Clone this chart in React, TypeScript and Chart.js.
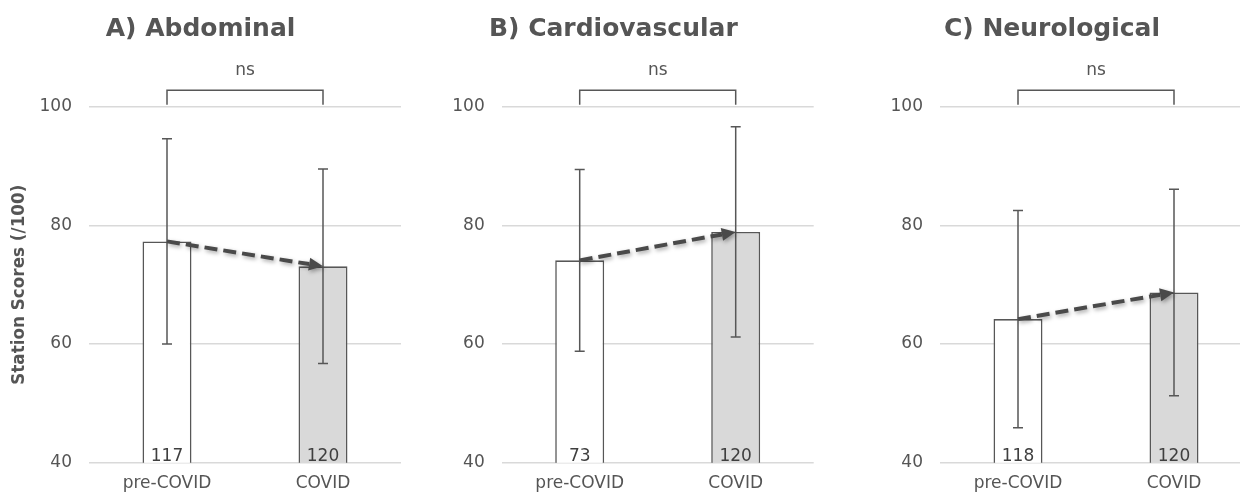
import React, { useEffect, useRef } from "react";
import { Chart, registerables } from "chart.js";

Chart.register(...registerables);

const categories = ["pre-COVID", "COVID"];
const panelTitles = ["A) Abdominal", "B) Cardiovascular", "C) Neurological"];
const yAxisTitle = "Station Scores (/100)";
const yTicks = [40, 60, 80, 100];
const significance = ["ns", "ns", "ns"];

const abdominalMeans = [77.3, 73.1];
const abdominalSD = [17.3, 16.4];
const abdominalN = [117, 120];

const cardiovascularMeans = [74.1, 78.9];
const cardiovascularSD = [15.3, 17.7];
const cardiovascularN = [73, 120];

const neurologicalMeans = [64.2, 68.7];
const neurologicalSD = [18.3, 17.4];
const neurologicalN = [118, 120];

const FONT = "'DejaVu Sans', sans-serif";
const GREY = "#555555";
const LINE = "#575757";

const panels = [
  { title: panelTitles[0], means: abdominalMeans, sd: abdominalSD, n: abdominalN, sig: significance[0], left: 0, width: 403, axisW: 89, showY: true },
  { title: panelTitles[1], means: cardiovascularMeans, sd: cardiovascularSD, n: cardiovascularN, sig: significance[1], left: 413, width: 402, axisW: 88.7, showY: false },
  { title: panelTitles[2], means: neurologicalMeans, sd: neurologicalSD, n: neurologicalN, sig: significance[2], left: 852, width: 401, axisW: 88, showY: false },
];

function makeOverlay(p: any) {
  return {
    id: "overlay",
    afterDatasetsDraw(chart: any) {
      const ctx = chart.ctx;
      const x = chart.scales.x;
      const y = chart.scales.y;
      const cx = categories.map((_, i) => x.getPixelForValue(i));
      ctx.save();
      // n labels inside bars
      ctx.fillStyle = "#3f3f3f";
      ctx.font = `17px ${FONT}`;
      ctx.textAlign = "center";
      ctx.textBaseline = "alphabetic";
      p.n.forEach((v: number, i: number) => {
        ctx.fillText(String(v), cx[i], y.getPixelForValue(40) - 1.5);
      });
      // error bars
      ctx.strokeStyle = LINE;
      ctx.lineWidth = 1.5;
      p.means.forEach((m: number, i: number) => {
        const top = y.getPixelForValue(m + p.sd[i]);
        const bot = y.getPixelForValue(m - p.sd[i]);
        ctx.beginPath();
        ctx.moveTo(cx[i], top);
        ctx.lineTo(cx[i], bot);
        ctx.moveTo(cx[i] - 5, top);
        ctx.lineTo(cx[i] + 5, top);
        ctx.moveTo(cx[i] - 5, bot);
        ctx.lineTo(cx[i] + 5, bot);
        ctx.stroke();
      });
      // bracket + ns
      const yb = y.getPixelForValue(100);
      ctx.beginPath();
      ctx.moveTo(cx[0], yb - 2);
      ctx.lineTo(cx[0], yb - 16.5);
      ctx.lineTo(cx[1], yb - 16.5);
      ctx.lineTo(cx[1], yb - 2);
      ctx.stroke();
      ctx.fillStyle = GREY;
      ctx.font = `17px ${FONT}`;
      ctx.fillText(p.sig, (cx[0] + cx[1]) / 2, yb - 31.5);
      // dashed arrow
      const x0 = cx[0], y0 = y.getPixelForValue(p.means[0]);
      const x1 = cx[1], y1 = y.getPixelForValue(p.means[1]);
      const ang = Math.atan2(y1 - y0, x1 - x0);
      const headL = 14, headW = 6.5;
      const ex = x1 - Math.cos(ang) * headL;
      const ey = y1 - Math.sin(ang) * headL;
      ctx.shadowColor = "rgba(0,0,0,0.35)";
      ctx.shadowBlur = 4;
      ctx.shadowOffsetX = 1.5;
      ctx.shadowOffsetY = 2;
      ctx.strokeStyle = "#4a4a4a";
      ctx.fillStyle = "#4a4a4a";
      ctx.lineWidth = 4;
      ctx.setLineDash([13, 6]);
      ctx.beginPath();
      ctx.moveTo(x0, y0);
      ctx.lineTo(ex, ey);
      ctx.stroke();
      ctx.setLineDash([]);
      ctx.beginPath();
      ctx.moveTo(x1, y1);
      ctx.lineTo(ex - Math.sin(ang) * headW, ey + Math.cos(ang) * headW);
      ctx.lineTo(ex + Math.sin(ang) * headW, ey - Math.cos(ang) * headW);
      ctx.closePath();
      ctx.fill();
      ctx.restore();
    },
  };
}

function Panel({ p }: { p: any }) {
  const ref = useRef<HTMLCanvasElement>(null);
  useEffect(() => {
    if (!ref.current) return;
    const chart = new Chart(ref.current, {
      type: "bar",
      data: {
        labels: categories,
        datasets: [
          {
            data: p.means,
            backgroundColor: ["#ffffff", "#d9d9d9"],
            borderColor: LINE,
            borderWidth: 1.6,
            categoryPercentage: 1,
            barPercentage: 0.314,
          },
        ],
      },
      options: {
        animation: false,
        responsive: false,
        maintainAspectRatio: false,
        layout: { padding: { left: 0, right: p.width - p.axisW - 312, top: 0, bottom: 0 } },
        plugins: {
          legend: { display: false },
          tooltip: { enabled: false },
          title: {
            display: true,
            text: p.title,
            color: GREY,
            font: { family: FONT, size: 25, weight: "bold" },
            padding: { top: 14, bottom: 62.7 },
          },
        },
        scales: {
          x: {
            grid: { display: false, drawTicks: false },
            border: { display: false },
            ticks: { font: { family: FONT, size: 17 }, color: GREY, padding: 11 },
            afterFit: (s: any) => {
              s.height = 31.3;
            },
          },
          y: {
            min: yTicks[0],
            max: yTicks[yTicks.length - 1],
            afterBuildTicks: (s: any) => {
              s.ticks = yTicks.map((v) => ({ value: v }));
            },
            ticks: { font: { family: FONT, size: 17 }, color: GREY, padding: 17 },
            grid: { color: "#d9d9d9", lineWidth: 1.5, drawTicks: false },
            border: { display: false },
            title: {
              display: p.showY,
              text: yAxisTitle,
              color: GREY,
              font: { family: FONT, size: 16.8, weight: "bold" },
              padding: { top: 10, bottom: 0 },
            },
            afterFit: (s: any) => {
              s.width = p.axisW;
            },
          },
        },
      } as any,
      plugins: [makeOverlay(p)],
    });
    return () => chart.destroy();
  }, []);
  return (
    <canvas
      ref={ref}
      width={p.width}
      height={494}
      style={{ position: "absolute", left: p.left, top: 0, width: p.width, height: 494 }}
    />
  );
}

export default function App() {
  return (
    <div style={{ position: "absolute", left: 0, top: 0, width: 1240, height: 494, overflow: "hidden", background: "#fff" }}>
      {panels.map((p, i) => (
        <Panel key={i} p={p} />
      ))}
    </div>
  );
}
